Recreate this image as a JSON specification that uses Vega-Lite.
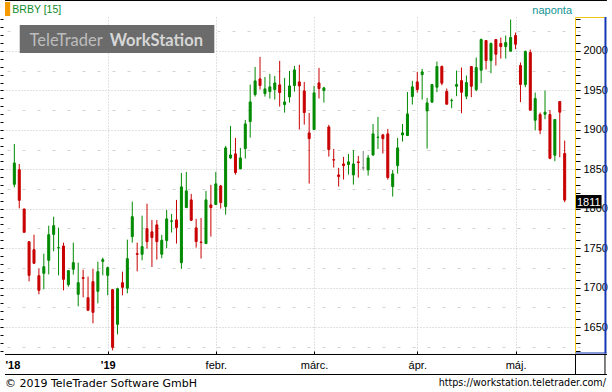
{
 "$schema": "https://vega.github.io/schema/vega-lite/v6.json",
 "width": 580, "height": 337,
 "autosize": {"type": "none"},
 "padding": {"left": 0, "top": 17, "right": 32, "bottom": 38},
 "background": "#ffffff",
 "config": {"view": {"stroke": null}, "axis": {"labelFont": "Liberation Sans", "labelFontSize": 11, "labelColor": "#000000"}},
 "datasets": {"px": [
{"i":0,"o":1830.9,"h":1882.1,"l":1827.1,"c":1858},
{"i":1,"o":1849.5,"h":1856.7,"l":1800.5,"c":1810.7},
{"i":2,"o":1799.7,"h":1799.7,"l":1770.1,"c":1770.1},
{"i":3,"o":1758.2,"h":1758.2,"l":1707.9,"c":1715.5},
{"i":4,"o":1748.1,"h":1767.1,"l":1730.8,"c":1730.8},
{"i":5,"o":1715.1,"h":1724,"l":1691.5,"c":1696.5},
{"i":6,"o":1718.1,"h":1743,"l":1697.8,"c":1726.5},
{"i":7,"o":1734.6,"h":1778.5,"l":1716.8,"c":1767.1},
{"i":8,"o":1767.5,"h":1789.9,"l":1746,"c":1778.5},
{"i":9,"o":1750.2,"h":1776,"l":1715.5,"c":1750.6},
{"i":10,"o":1752.7,"h":1757,"l":1696.5,"c":1710.5},
{"i":11,"o":1703.7,"h":1721.5,"l":1701.2,"c":1721.5},
{"i":12,"o":1723.2,"h":1757,"l":1716.4,"c":1731.6},
{"i":13,"o":1691.5,"h":1731.6,"l":1676.2,"c":1706.2},
{"i":14,"o":1712.6,"h":1722.7,"l":1687.6,"c":1711.7},
{"i":15,"o":1687.2,"h":1713.9,"l":1671.2,"c":1671.2},
{"i":16,"o":1707.5,"h":1724,"l":1654.7,"c":1668.6},
{"i":17,"o":1695.3,"h":1732.9,"l":1680,"c":1720.2},
{"i":18,"o":1733.3,"h":1738,"l":1715.5,"c":1735.4},
{"i":19,"o":1715.5,"h":1726.5,"l":1690.2,"c":1725.3},
{"i":20,"o":1697.4,"h":1697.4,"l":1620.4,"c":1624.2},
{"i":21,"o":1653.4,"h":1699.9,"l":1640.7,"c":1698.6},
{"i":22,"o":1706.2,"h":1720.2,"l":1690.2,"c":1700.3},
{"i":23,"o":1699.1,"h":1760.8,"l":1692.7,"c":1736.7},
{"i":24,"o":1764.6,"h":1809,"l":1757,"c":1789.9},
{"i":25,"o":1743,"h":1757,"l":1720.6,"c":1742.2},
{"i":26,"o":1742.2,"h":1791.2,"l":1734.6,"c":1751.9},
{"i":27,"o":1774.7,"h":1806.4,"l":1749.4,"c":1758.2},
{"i":28,"o":1770.7,"h":1785.8,"l":1726.2,"c":1763.4},
{"i":29,"o":1779.5,"h":1785.8,"l":1735.5,"c":1758.3},
{"i":30,"o":1742.3,"h":1766.8,"l":1737.2,"c":1760},
{"i":31,"o":1759.6,"h":1798.5,"l":1749.9,"c":1787.1},
{"i":32,"o":1784.1,"h":1793.4,"l":1769.8,"c":1784.6},
{"i":33,"o":1785.8,"h":1811.2,"l":1755.8,"c":1776.1},
{"i":34,"o":1731.7,"h":1845.4,"l":1723.7,"c":1827.7},
{"i":35,"o":1801.4,"h":1846.7,"l":1801.4,"c":1822.6},
{"i":36,"o":1811.2,"h":1818.8,"l":1784.5,"c":1785.4},
{"i":37,"o":1775.7,"h":1787.1,"l":1750.7,"c":1758.3},
{"i":38,"o":1757.8,"h":1788.3,"l":1736.8,"c":1757.3},
{"i":39,"o":1755.8,"h":1822.6,"l":1755.8,"c":1811.2},
{"i":40,"o":1804.8,"h":1830.2,"l":1764.7,"c":1801.4},
{"i":41,"o":1805.3,"h":1846.7,"l":1805.3,"c":1831.5},
{"i":42,"o":1828.9,"h":1830.2,"l":1800.2,"c":1807.8},
{"i":43,"o":1802.7,"h":1879.6,"l":1792.6,"c":1877.1},
{"i":44,"o":1864.4,"h":1905,"l":1863.2,"c":1868.2},
{"i":45,"o":1869.5,"h":1889.8,"l":1843.3,"c":1845.8},
{"i":46,"o":1850.5,"h":1877.1,"l":1850.5,"c":1864.4},
{"i":47,"o":1876.3,"h":1912.6,"l":1863.6,"c":1907.5},
{"i":48,"o":1910.5,"h":1957.4,"l":1890.2,"c":1935.4},
{"i":49,"o":1944.7,"h":1979.8,"l":1942.2,"c":1962.1},
{"i":50,"o":1964.6,"h":1992.5,"l":1951.1,"c":1956.2},
{"i":51,"o":1946,"h":1967.1,"l":1942.2,"c":1951.9},
{"i":52,"o":1948.5,"h":1971,"l":1939.7,"c":1954.5},
{"i":53,"o":1951.1,"h":1968.4,"l":1938.4,"c":1959.5},
{"i":54,"o":1957,"h":1987.4,"l":1929.5,"c":1947.3},
{"i":55,"o":1932.1,"h":1965.9,"l":1921.9,"c":1935.4},
{"i":56,"o":1941.8,"h":1974.8,"l":1934.6,"c":1955.7},
{"i":57,"o":1956.2,"h":1981.1,"l":1948.5,"c":1976},
{"i":58,"o":1960.8,"h":1982.4,"l":1900.4,"c":1955.7},
{"i":59,"o":1949.4,"h":1960.8,"l":1906.7,"c":1921.9},
{"i":60,"o":1896.1,"h":1921.5,"l":1831.9,"c":1888.9},
{"i":61,"o":1900.4,"h":1955.7,"l":1900.4,"c":1946.9},
{"i":62,"o":1959.5,"h":1978.6,"l":1939.7,"c":1952.4},
{"i":63,"o":1949.8,"h":1954.5,"l":1934.6,"c":1953.2},
{"i":64,"o":1903.7,"h":1906.3,"l":1866.1,"c":1875},
{"i":65,"o":1862.2,"h":1875.8,"l":1852.2,"c":1861.7},
{"i":66,"o":1842.9,"h":1851.8,"l":1828.1,"c":1840.8},
{"i":67,"o":1856.8,"h":1865.7,"l":1837,"c":1854.7},
{"i":68,"o":1856,"h":1869.5,"l":1843.3,"c":1859.4},
{"i":69,"o":1842.9,"h":1874.6,"l":1830.6,"c":1856.8},
{"i":70,"o":1859.4,"h":1867,"l":1839.5,"c":1858.5},
{"i":71,"o":1851.8,"h":1873.3,"l":1848.4,"c":1851.8},
{"i":72,"o":1849.2,"h":1868.2,"l":1842,"c":1864.4},
{"i":73,"o":1868.2,"h":1907.5,"l":1867,"c":1894.9},
{"i":74,"o":1890.4,"h":1916.4,"l":1875.8,"c":1890.8},
{"i":75,"o":1893.6,"h":1894.9,"l":1869.9,"c":1888.9},
{"i":76,"o":1894.9,"h":1901.2,"l":1837,"c":1839.5},
{"i":77,"o":1828.1,"h":1849.2,"l":1815.4,"c":1844.1},
{"i":78,"o":1854.7,"h":1889.8,"l":1844.6,"c":1877.1},
{"i":79,"o":1893.6,"h":1907.5,"l":1885.1,"c":1896.1},
{"i":80,"o":1892.8,"h":1948.1,"l":1892.8,"c":1920.2},
{"i":81,"o":1942.2,"h":1962.1,"l":1932.1,"c":1954.5},
{"i":82,"o":1960.8,"h":1973.5,"l":1947.3,"c":1951.1},
{"i":83,"o":1970.1,"h":1977.3,"l":1938.4,"c":1973.5},
{"i":84,"o":1924,"h":1940.5,"l":1876.3,"c":1934.2},
{"i":85,"o":1935.1,"h":1957.5,"l":1935.1,"c":1957.5},
{"i":86,"o":1954.1,"h":1986.6,"l":1947.7,"c":1980.3},
{"i":87,"o":1980.3,"h":1981.6,"l":1956.6,"c":1959.2},
{"i":88,"o":1948.6,"h":1952.4,"l":1932.5,"c":1932.5},
{"i":89,"o":1937,"h":1939.7,"l":1927.4,"c":1937.4},
{"i":90,"o":1955.3,"h":1975.2,"l":1942.7,"c":1957.5},
{"i":91,"o":1962.5,"h":1979,"l":1921.1,"c":1947.7},
{"i":92,"o":1942.7,"h":1968.9,"l":1938.9,"c":1960},
{"i":93,"o":1980.3,"h":1980.3,"l":1941.4,"c":1955.3},
{"i":94,"o":1951.1,"h":1991.7,"l":1949,"c":1979},
{"i":95,"o":1975.6,"h":2015.8,"l":1959.2,"c":2014.5},
{"i":96,"o":2013.3,"h":2013.3,"l":1976.5,"c":1987.9},
{"i":97,"o":1987.9,"h":2010.7,"l":1971.8,"c":2009.5},
{"i":98,"o":2014.5,"h":2014.5,"l":1981.6,"c":1995.9},
{"i":99,"o":2009.5,"h":2017.1,"l":1990.4,"c":2005.6},
{"i":100,"o":2005.6,"h":2019.6,"l":1990.4,"c":2010.7},
{"i":101,"o":1999.7,"h":2039.9,"l":1999.7,"c":2017.1},
{"i":102,"o":2019.6,"h":2023.4,"l":2002.3,"c":2008.6},
{"i":103,"o":1981.6,"h":1985.4,"l":1935.1,"c":1957.5},
{"i":104,"o":1957.5,"h":2000.6,"l":1954.1,"c":1999.3},
{"i":105,"o":1998,"h":2001.8,"l":1924.9,"c":1924.9},
{"i":106,"o":1912.2,"h":1947.3,"l":1899.6,"c":1939.7},
{"i":107,"o":1919.4,"h":1922,"l":1894.5,"c":1899.6},
{"i":108,"o":1919.8,"h":1949.9,"l":1913.5,"c":1922.4},
{"i":109,"o":1919.4,"h":1924.9,"l":1862.8,"c":1864},
{"i":110,"o":1867.8,"h":1913.1,"l":1860.2,"c":1913.1},
{"i":111,"o":1935.9,"h":1935.9,"l":1865.3,"c":1922.4},
{"i":112,"o":1870,"h":1886.4,"l":1808.3,"c":1811}
 ]},
 "data": {"name": "px"},
 "resolve": {"axis": {"x": "independent", "y": "independent"}},
 "layer": [
  {"data": {"values": [{}]}, "mark": {"type": "rect", "fill": "#6b6b6b"},
   "encoding": {"x": {"datum": 1.1, "type": "quantitative", "axis": null}, "x2": {"datum": 40.7}, "y": {"datum": 2033, "type": "quantitative", "axis": null}, "y2": {"datum": 1997.5}}},
  {"data": {"values": [{}]}, "mark": {"type": "text", "text": "TeleTrader", "font": "Lato", "fontSize": 16.5, "fill": "#bdbdbd", "align": "left", "baseline": "alphabetic"},
   "encoding": {"x": {"datum": 3.1, "type": "quantitative", "axis": null}, "y": {"datum": 2006.7, "type": "quantitative", "axis": null}}},
  {"data": {"values": [{}]}, "mark": {"type": "text", "text": "WorkStation", "font": "Lato", "fontSize": 16.5, "fontWeight": "bold", "fill": "#d6d6d6", "align": "left", "baseline": "alphabetic"},
   "encoding": {"x": {"datum": 19.4, "type": "quantitative", "axis": null}, "y": {"datum": 2006.7, "type": "quantitative", "axis": null}}},
  {"mark": {"type": "rule", "strokeWidth": 1},
   "encoding": {
    "x": {"field": "i", "type": "quantitative", "scale": {"domain": [-1.9, 114.1], "nice": false, "zero": false},
      "axis": {"orient": "bottom", "title": null, "values": [-1.9, 19, 41, 61, 82, 102],
        "domain": false, "offset": -3, "tickSize": 3, "tickColor": "#000000",
        "tickOpacity": {"condition": {"test": "datum.value < 0", "value": 0}, "value": 1},
        "labelExpr": "datum.value < 0 ? \"'18\" : datum.value == 19 ? \"'19\" : datum.value == 41 ? 'febr.' : datum.value == 61 ? 'márc.' : datum.value == 82 ? 'ápr.' : 'máj.'",
        "labelAlign": {"condition": {"test": "datum.value < 0", "value": "left"}, "value": "center"},
        "labelFontWeight": {"condition": {"test": "datum.value < 20", "value": "bold"}, "value": "normal"},
        "labelBaseline": "alphabetic", "labelPadding": 14, "labelFlush": false, "labelOverlap": false, "labelBound": false,
        "grid": true, "gridColor": "#c4c4c4", "gridDash": [1, 2],
        "gridOpacity": {"condition": {"test": "datum.value < 0", "value": 0}, "value": 1}}},
    "y": {"field": "l", "type": "quantitative", "scale": {"domain": [1615.8, 2043.1], "nice": false, "zero": false},
      "axis": {"orient": "right", "title": null,
        "values": [1620,1625,1630,1635,1640,1645,1650,1655,1660,1665,1670,1675,1680,1685,1690,1695,1700,1705,1710,1715,1720,1725,1730,1735,1740,1745,1750,1755,1760,1765,1770,1775,1780,1785,1790,1795,1800,1805,1810,1815,1820,1825,1830,1835,1840,1845,1850,1855,1860,1865,1870,1875,1880,1885,1890,1895,1900,1905,1910,1915,1920,1925,1930,1935,1940,1945,1950,1955,1960,1965,1970,1975,1980,1985,1990,1995,2000,2005,2010,2015,2020,2025,2030,2035,2040],
        "domain": false, "offset": -5, "tickSize": 5, "tickColor": "#000000", "tickWidth": 1,
        "tickOpacity": {"condition": {"test": "datum.value % 10 == 0", "value": 1}, "value": 0},
        "labelPadding": 3, "format": "d", "labelExpr": "datum.value % 50 == 0 ? datum.label : ''",
        "labelOverlap": false, "labelBound": false, "labelFlush": false,
        "grid": true,
        "gridColor": {"condition": {"test": "datum.value % 50 == 0", "value": "#c4c4c4"}, "value": "#d2d2d2"},
        "gridDash": {"condition": {"test": "datum.value % 50 == 0", "value": [1, 2]}, "value": [3, 12]},
        "gridOpacity": {"condition": {"test": "datum.value % 25 == 0", "value": 1}, "value": 0}}},
    "y2": {"field": "h"},
    "color": {"condition": [{"test": "datum.c > datum.o", "value": "#008a00"}, {"test": "datum.c < datum.o", "value": "#c80000"}], "value": "#808080"}}},
  {"mark": {"type": "bar", "width": 2, "strokeWidth": 1},
   "encoding": {
    "x": {"field": "i", "type": "quantitative", "scale": {"domain": [-1.9, 114.1], "nice": false, "zero": false}, "axis": null},
    "y": {"field": "o", "type": "quantitative", "scale": {"domain": [1615.8, 2043.1], "nice": false, "zero": false},
      "axis": {"orient": "left", "title": null, "values": [1620,1630,1640,1650,1660,1670,1680,1690,1700,1710,1720,1730,1740,1750,1760,1770,1780,1790,1800,1810,1820,1830,1840,1850,1860,1870,1880,1890,1900,1910,1920,1930,1940,1950,1960,1970,1980,1990,2000,2010,2020,2030,2040],
        "domain": false, "grid": false, "labels": false, "offset": -3, "tickSize": 3, "tickColor": "#000000"}},
    "y2": {"field": "c"},
    "fill": {"condition": [{"test": "datum.c > datum.o", "value": "#008a00"}, {"test": "datum.c < datum.o", "value": "#c80000"}], "value": "#808080"},
    "stroke": {"condition": [{"test": "datum.c > datum.o", "value": "#008a00"}, {"test": "datum.c < datum.o", "value": "#c80000"}], "value": "#808080"}}},
  {"data": {"values": [{}]}, "mark": {"type": "rect", "fill": "#000000"},
   "encoding": {"x": {"datum": 114.1, "type": "quantitative", "axis": null}, "x2": {"datum": 119.5}, "y": {"datum": 1817.4, "type": "quantitative", "axis": null}, "y2": {"datum": 1800.5}}},
  {"transform": [{"filter": "datum.i == 112"}],
   "mark": {"type": "text", "font": "Liberation Sans", "fontSize": 11, "fill": "#ffffff", "align": "left", "baseline": "alphabetic", "dy": 6},
   "encoding": {"x": {"datum": 114.5, "type": "quantitative", "axis": null}, "y": {"field": "c", "type": "quantitative", "axis": null}, "text": {"field": "c", "format": "d"}}},
  {"data": {"values": [{}]}, "mark": {"type": "rule", "stroke": "#000000", "strokeWidth": 1},
   "encoding": {"x": {"datum": -1.9, "type": "quantitative", "axis": null}, "x2": {"datum": 120.6}, "y": {"datum": 2064.0, "type": "quantitative", "axis": null}}},
  {"data": {"values": [{}]}, "mark": {"type": "rule", "stroke": "#000000", "strokeWidth": 1},
   "encoding": {"x": {"datum": -1.9, "type": "quantitative", "axis": null}, "x2": {"datum": 120.6}, "y": {"datum": 1615.17, "type": "quantitative", "axis": null}}},
  {"data": {"values": [{}]}, "mark": {"type": "rule", "stroke": "#000000", "strokeWidth": 1},
   "encoding": {"x": {"datum": -1.9, "type": "quantitative", "axis": null}, "x2": {"datum": 120.6}, "y": {"datum": 1589.8, "type": "quantitative", "axis": null}}},
  {"data": {"values": [{}]}, "mark": {"type": "rule", "stroke": "#000000", "strokeWidth": 1},
   "encoding": {"x": {"datum": 114.2, "type": "quantitative", "axis": null}, "y": {"datum": 1615.17, "type": "quantitative", "axis": null}, "y2": {"datum": 1589.8}}},
  {"data": {"values": [{}]}, "mark": {"type": "rule", "stroke": "#000000", "strokeWidth": 1},
   "encoding": {"x": {"datum": 120.2, "type": "quantitative", "axis": null}, "y": {"datum": 1615.17, "type": "quantitative", "axis": null}, "y2": {"datum": 1589.8}}},
  {"data": {"values": [{}]}, "mark": {"type": "rule", "stroke": "#f2c417", "strokeWidth": 1},
   "encoding": {"x": {"datum": 114.2, "type": "quantitative", "axis": null}, "x2": {"datum": 120.1}, "y": {"datum": 2042.47, "type": "quantitative", "axis": null}}},
  {"data": {"values": [{}]}, "mark": {"type": "rule", "stroke": "#f2c417", "strokeWidth": 1},
   "encoding": {"x": {"datum": 114.2, "type": "quantitative", "axis": null}, "y": {"datum": 2042.47, "type": "quantitative", "axis": null}, "y2": {"datum": 1616.4}}},
  {"data": {"values": [{}]}, "mark": {"type": "rule", "stroke": "#1438b4", "strokeWidth": 2},
   "encoding": {"x": {"datum": 120.3, "type": "quantitative", "axis": null}, "y": {"datum": 2043.1, "type": "quantitative", "axis": null}, "y2": {"datum": 1616.4}}},
  {"data": {"values": [{}]}, "mark": {"type": "rule", "stroke": "#1438b4", "strokeWidth": 1},
   "encoding": {"x": {"datum": 114.2, "type": "quantitative", "axis": null}, "x2": {"datum": 120.5}, "y": {"datum": 1617.07, "type": "quantitative", "axis": null}}},
  {"data": {"values": [{}]}, "mark": {"type": "rect", "fill": "#f59a00"},
   "encoding": {"x": {"datum": -1.9, "type": "quantitative", "axis": null}, "x2": {"datum": -0.84}, "y": {"datum": 2062.1, "type": "quantitative", "axis": null}, "y2": {"datum": 2044.4}}},
  {"data": {"values": [{}]}, "mark": {"type": "text", "text": "BRBY [15]", "font": "Liberation Sans", "fontSize": 10.5, "fill": "#0f8a2a", "align": "left", "baseline": "middle"},
   "encoding": {"x": {"datum": -0.4, "type": "quantitative", "axis": null}, "y": {"datum": 2052.6, "type": "quantitative", "axis": null}}},
  {"data": {"values": [{}]}, "mark": {"type": "text", "text": "naponta", "font": "Liberation Sans", "fontSize": 11, "fill": "#109494", "align": "right", "baseline": "middle"},
   "encoding": {"x": {"datum": 113.5, "type": "quantitative", "axis": null}, "y": {"datum": 2051.3, "type": "quantitative", "axis": null}}},
  {"data": {"values": [{}]}, "mark": {"type": "text", "text": "© 2019 TeleTrader Software GmbH", "font": "DejaVu Sans", "fontSize": 11, "fill": "#000000", "align": "left", "baseline": "alphabetic"},
   "encoding": {"x": {"datum": -1.9, "type": "quantitative", "axis": null}, "y": {"datum": 1573.9, "type": "quantitative", "axis": null}}},
  {"data": {"values": [{}]}, "mark": {"type": "text", "text": "https://workstation.teletrader.com/", "font": "DejaVu Sans", "fontSize": 9.6, "fill": "#000000", "align": "right", "baseline": "alphabetic"},
   "encoding": {"x": {"datum": 120.4, "type": "quantitative", "axis": null}, "y": {"datum": 1575.2, "type": "quantitative", "axis": null}}}
 ]
}
